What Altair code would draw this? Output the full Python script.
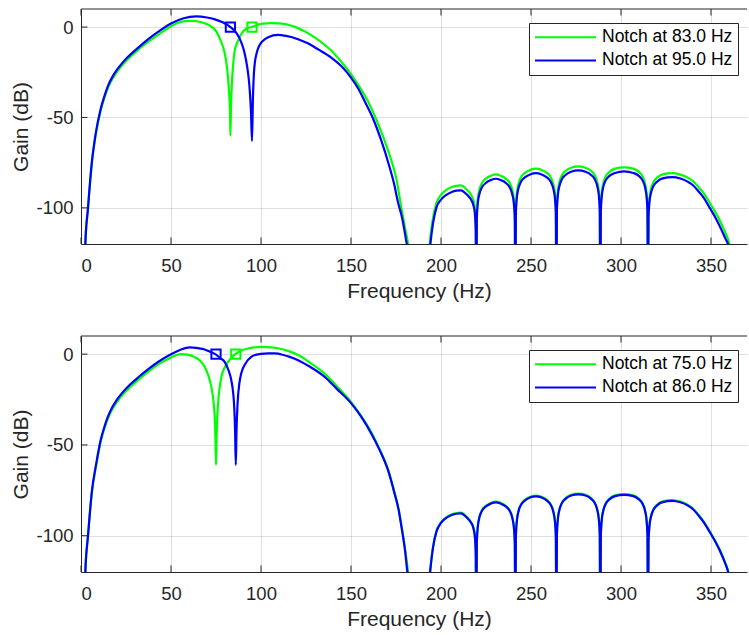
import altair as alt
import pandas as pd

# ---------------- data ----------------
GREEN = "#00ff00"
BLUE = "#0000ff"
TXT = "#262626"
FONT = "Liberation Sans"

x_ticks = [0, 50, 100, 150, 200, 250, 300, 350]
y_ticks = [-100, -50, 0]

top_labels = ["Notch at 83.0 Hz", "Notch at 95.0 Hz"]
bot_labels = ["Notch at 75.0 Hz", "Notch at 86.0 Hz"]

# --- top panel, passband ---
top_green_f = [2.0, 2.4, 3.9, 6, 8.1, 11, 13, 15, 17.5, 20, 23, 26, 32, 37.2, 43, 50, 54, 57.6, 62, 65, 69,
               72.4, 74.5, 77.6, 79.5, 81.1, 82.2, 82.8, 83.0, 83.3, 83.8, 84.4, 85.4, 87.2,
               89, 91.9, 94.8, 98, 101, 105.7, 110, 115, 120, 124.5, 129.8, 135, 139, 144,
               150, 155, 159.4, 164, 168.7, 172, 175, 178, 180, 181.7, 182.5]
top_green_g = [-135, -120, -100, -75.5, -60, -45.8, -39.2, -33.6, -28.6, -24.8, -21, -17.8, -12.3, -8.2, -4.2, 0.5, 2.4, 3.3, 3.4, 3.1, 2.0,
               0.3, -1.5, -7.6, -13, -22.4, -35, -48, -60, -45, -32, -22.4, -13, -7.6,
               -4, -0.8, 0, 1.2, 1.9, 2.2, 2.0, 1.3, -0.3, -2.5, -5.7, -9.5, -13, -18.5,
               -26, -33.5, -41, -51, -63, -72.5, -83, -100, -111, -120, -127]

top_blue_f = [2.0, 2.4, 3.9, 6, 8.1, 11, 13, 15, 17.5, 20, 23, 26, 32, 37.2, 43, 50, 57, 64, 70, 74, 79, 83,
              86.5, 88.7, 90.6, 92.4, 93.6, 94.4, 95.0, 95.5, 96.3, 97.9, 99.5, 101.1, 104,
              109.4, 114, 120.6, 126, 132, 139, 145, 150, 154, 157.6, 162, 166.9, 171, 174,
              176, 178.5, 181, 182]
top_blue_g = [-135, -120, -100, -75, -59.4, -45, -38.2, -32.5, -27.4, -23.6, -19.8, -16.6, -11.2, -6.8, -2.5, 2.0, 4.9, 5.9, 5.3, 4.4, 2.5, 0,
              -3.5, -7.6, -13.2, -22.4, -33, -46, -63, -40, -22.4, -13.2, -9.5, -7.6, -5.6,
              -4.3, -4.9, -6.7, -9, -12.5, -16.9, -22, -28, -34, -41, -50, -63, -76, -87,
              -96.5, -106, -120, -125]

# --- bottom panel, passband ---
bot_green_f = [2.0, 2.4, 3.9, 6, 8.5, 11, 13, 15, 17.5, 20, 23, 27, 32, 37.2, 43, 50, 53, 55.7, 59, 63, 66,
               68.7, 70.8, 72.4, 73.6, 74.3, 74.7, 75.0, 75.3, 75.8, 76.6, 78, 79.5, 81.7,
               85.7, 89, 92.8, 96, 100, 103, 105.7, 110, 115, 120.6, 127, 135.4, 142, 150,
               156, 161.3, 166, 170.6, 174, 176.5, 178, 180, 181.7, 182.5]
bot_green_g = [-135, -120, -100, -76.5, -61, -48, -41, -35.3, -30.2, -26.3, -22.5, -18.4, -14.0, -9.8, -5.6, -1.8, -0.5, 0, -0.3, -1.5, -3.5,
               -7, -12, -18, -26, -35, -47, -61, -47, -33, -22, -12.5, -8, -4.2,
               0, 2, 3.1, 3.7, 4.0, 3.9, 3.7, 3.1, 1.8, -0.5, -4.5, -10.7, -17.5, -26.3,
               -34.5, -43, -52.5, -63.5, -75.5, -85.5, -94, -107, -120, -127]

bot_blue_f = [2.0, 2.4, 3.9, 6, 8.5, 11, 13, 15, 17.5, 20, 23, 27, 32, 37.2, 43, 50, 55, 60.4, 65, 68.7, 72,
              74.6, 77.5, 79.8, 82, 83.5, 85, 85.6, 86.0, 86.4, 87, 88, 89, 91.5, 94.6, 97,
              100, 104, 107.6, 112, 116, 120.6, 127, 135.4, 142, 150, 156, 161.3, 166, 170.6,
              174, 176.5, 178, 180, 181.3, 182.3]
bot_blue_g = [-135, -120, -100, -76, -60, -47, -40, -34.3, -29, -25, -21.2, -17, -12.6, -8.4, -4.2, 0, 2.3, 3.7, 3.3, 2.6, 1.2,
              0, -2.3, -4.2, -9, -14.4, -27, -42, -61, -42, -27, -16, -10.7, -5, -1.5, -0.4,
              0.2, 0.45, 0.4, -0.3, -1.5, -3.3, -6.8, -12.5, -19, -27, -35, -43.8, -53, -64,
              -76, -86, -95, -108, -120, -128]

# --- stopband (same frequency grid in both panels) ---
stop_f = [183, 188, 193, 194.1, 195.5, 197.4, 200, 203, 206, 208.5, 211, 214.5, 216.6, 218.0, 218.8, 219.3, 219.6,
          219.9, 220.4, 221.2, 222.6, 224.7, 227.8, 230.5, 233.1, 236.2, 238.3, 239.7, 240.5, 241.0, 241.3,
          241.6, 242.1, 242.9, 244.3, 246.4, 249.5, 252.7, 255.9, 259.0, 261.1, 262.5, 263.3, 263.8, 264.1,
          264.4, 264.9, 265.7, 267.1, 269.2, 272.3, 276.3, 280.3, 283.4, 285.5, 286.9, 287.7, 288.2, 288.5,
          288.8, 289.3, 290.1, 291.5, 293.6, 296.7, 301.7, 306.8, 309.9, 312.0, 313.4, 314.2, 314.7, 315.0,
          315.3, 315.8, 316.6, 318.0, 320.1, 323.2, 328.5, 333, 337, 340, 343, 346, 349.3, 352.5, 355.5, 358,
          359.4, 361, 364, 370]

top_blue_stop = [-150, -175, -132, -120, -109, -100, -95.5, -92.8, -91.2, -90.5, -90.3, -92.8, -95.3, -98.5, -103, -112.3, -160,
                 -105.9, -97.9, -92.9, -88.9, -86.4, -84.6, -83.9, -84.6, -86.4, -88.9, -92.9, -97.9, -105.9, -160,
                 -102.8, -94.8, -89.8, -85.8, -83.3, -81.5, -80.8, -81.5, -83.3, -85.8, -89.8, -94.8, -102.8, -160,
                 -101.3, -93.3, -88.3, -84.3, -81.8, -80.0, -79.3, -80.0, -81.8, -84.3, -88.3, -93.3, -101.3, -160,
                 -101.8, -93.8, -88.8, -84.8, -82.3, -80.7, -79.8, -80.7, -82.3, -84.8, -88.8, -93.8, -101.8, -160,
                 -105, -97, -92, -88, -85.5, -83.7, -83.0, -83.8, -85.5, -87.5, -90.8, -94.5, -100, -105.5, -111.5, -117,
                 -120, -128, -145, -170]

top_green_stop = [-148, -172, -128, -116, -106, -97.5, -92.8, -90.1, -88.5, -87.8, -87.6, -90.1, -92.6, -95.8, -100.3, -109.6, -160,
                  -103.5, -95.5, -90.5, -86.5, -84.0, -82.2, -81.5, -82.2, -84.0, -86.5, -90.5, -95.5, -103.5, -160,
                  -100.3, -92.3, -87.3, -83.3, -80.8, -79.0, -78.3, -79.0, -80.8, -83.3, -87.3, -92.3, -100.3, -160,
                  -99.1, -91.1, -86.1, -82.1, -79.6, -77.8, -77.1, -77.8, -79.6, -82.1, -86.1, -91.1, -99.1, -160,
                  -99.6, -91.6, -86.6, -82.6, -80.1, -78.3, -77.6, -78.3, -80.1, -82.6, -86.6, -91.6, -99.6, -160,
                  -102.8, -94.8, -89.8, -85.8, -83.3, -81.5, -80.8, -81.6, -83.2, -85.2, -88.4, -92.0, -97.2, -102.5, -108.2, -113.8,
                  -117.2, -123.5, -140, -165]

bot_blue_stop = [-149, -173, -130, -118.5, -107, -98, -93, -90.2, -88.6, -87.9, -87.7, -90.2, -92.7, -95.9, -100.4, -109.7, -160,
                 -103.6, -95.6, -90.6, -86.6, -84.1, -82.3, -81.6, -82.3, -84.1, -86.6, -90.6, -95.6, -103.6, -160,
                 -100.3, -92.3, -87.3, -83.3, -80.8, -79.0, -78.3, -79.0, -80.8, -83.3, -87.3, -92.3, -100.3, -160,
                 -99.2, -91.2, -86.2, -82.2, -79.7, -77.9, -77.2, -77.9, -79.7, -82.2, -86.2, -91.2, -99.2, -160,
                 -99.5, -91.5, -86.5, -82.5, -80.0, -78.2, -77.5, -78.2, -80.0, -82.5, -86.5, -91.5, -99.5, -160,
                 -102.8, -94.8, -89.8, -85.8, -83.3, -81.5, -80.8, -81.6, -83.3, -85.4, -88.8, -92.6, -98, -103.5, -109.5, -115.5,
                 -119.5, -127, -144, -168]

bot_green_stop = [-148.5, -172.5, -129.5, -118, -106.6, -97.6, -92.6, -89.8, -88.2, -87.5, -87.3, -89.8, -92.3, -95.5, -100.0, -109.3, -160,
                  -103.2, -95.2, -90.2, -86.2, -83.7, -81.9, -81.2, -81.9, -83.7, -86.2, -90.2, -95.2, -103.2, -160,
                  -99.9, -91.9, -86.9, -82.9, -80.4, -78.6, -77.9, -78.6, -80.4, -82.9, -86.9, -91.9, -99.9, -160,
                  -98.8, -90.8, -85.8, -81.8, -79.3, -77.5, -76.8, -77.5, -79.3, -81.8, -85.8, -90.8, -98.8, -160,
                  -99.1, -91.1, -86.1, -82.1, -79.6, -77.8, -77.1, -77.8, -79.6, -82.1, -86.1, -91.1, -99.1, -160,
                  -102.4, -94.4, -89.4, -85.4, -82.9, -81.1, -80.4, -81.2, -82.9, -85.0, -88.4, -92.2, -97.6, -103.1, -109.1, -115.1,
                  -119.1, -126.5, -143.5, -167.5]

# squares: each filter's response marked at the other filter's notch
top_sq_f = [83.0, 95.0]
top_sq_g = [0, 0]
bot_sq_f = [75.0, 86.0]
bot_sq_g = [0, 0]

# ---------------- layout constants ----------------
W = 666
H_TOP = 235
H_BOT = 236
TICK = 6.5


def panel(labels, g_f, g_g, b_f, b_g, g_stop, b_stop, sq_f, sq_g, H):
    green_df = pd.DataFrame({"freq": g_f + stop_f, "gain": g_g + g_stop, "series": labels[0]})
    blue_df = pd.DataFrame({"freq": b_f + stop_f, "gain": b_g + b_stop, "series": labels[1]})
    # blue square sits at the green notch, green square at the blue notch
    sq_df = pd.DataFrame({"freq": sq_f, "gain": sq_g, "series": [labels[1], labels[0]]})

    cscale = alt.Scale(domain=labels, range=[GREEN, BLUE])
    x_enc = alt.X("freq:Q", scale=alt.Scale(domain=[0, 370], nice=False, zero=False),
                  axis=alt.Axis(values=x_ticks, title="Frequency (Hz)", titleX=W / 2 + 5))
    y_enc = alt.Y("gain:Q", scale=alt.Scale(domain=[-120, 10], nice=False, zero=False),
                  axis=alt.Axis(values=y_ticks, title="Gain (dB)",
                                labelExpr="toString(datum.value)"))
    legend = alt.Legend(
        title=None, orient="none", legendX=448, legendY=14,
        symbolType="stroke", symbolSize=3721, symbolStrokeWidth=2,
        clipHeight=18.4, rowPadding=4.2,
        labelFontSize=17.5, labelFont=FONT, labelColor="#000000",
        labelOffset=5, padding=5,
        fillColor="#ffffff", strokeColor=TXT, cornerRadius=0,
    )

    base_line = dict(clip=True, strokeWidth=2.2, interpolate="monotone")
    g_line = alt.Chart(green_df).mark_line(**base_line).encode(
        x=x_enc, y=y_enc, color=alt.Color("series:N", scale=cscale, legend=legend))
    b_line = alt.Chart(blue_df).mark_line(**base_line).encode(
        x=x_enc, y=y_enc, color=alt.Color("series:N", scale=cscale, legend=legend))
    squares = alt.Chart(sq_df).mark_point(shape="square", size=85, strokeWidth=2,
                                          filled=False, opacity=1).encode(
        x=x_enc, y=y_enc, color=alt.Color("series:N", scale=cscale, legend=None))

    xt = pd.DataFrame({"freq": x_ticks})
    yt = pd.DataFrame({"gain": y_ticks})
    one = pd.DataFrame({"k": [0]})
    tick_style = dict(color=TXT, strokeWidth=1)
    xt_bot = alt.Chart(xt).mark_rule(**tick_style).encode(
        x=x_enc, y=alt.value(H), y2=alt.value(H - TICK))
    xt_top = alt.Chart(xt).mark_rule(**tick_style).encode(
        x=x_enc, y=alt.value(0), y2=alt.value(TICK))
    yt_left = alt.Chart(yt).mark_rule(**tick_style).encode(
        y=y_enc, x=alt.value(0), x2=alt.value(TICK))
    top_frame = alt.Chart(one).mark_rule(**tick_style).encode(
        x=alt.value(0), x2=alt.value(W), y=alt.value(0))

    return alt.layer(g_line, b_line, squares, xt_bot, xt_top, yt_left, top_frame).properties(
        width=W, height=H)


top = panel(top_labels, top_green_f, top_green_g, top_blue_f, top_blue_g,
            top_green_stop, top_blue_stop, top_sq_f, top_sq_g, H_TOP)
bot = panel(bot_labels, bot_green_f, bot_green_g, bot_blue_f, bot_blue_g,
            bot_green_stop, bot_blue_stop, bot_sq_f, bot_sq_g, H_BOT)

chart = alt.vconcat(top, bot, spacing=33).resolve_scale(color="independent").resolve_legend(
    color="independent"
).properties(
    padding={"left": 10, "top": 8, "right": 0, "bottom": 0},
    background="#ffffff",
).configure_view(stroke=None).configure_axis(
    labelFont=FONT, titleFont=FONT, labelColor=TXT, titleColor=TXT,
    labelFontSize=18.5, titleFontSize=21, titleFontWeight="normal",
    domainColor=TXT, domainWidth=1, ticks=False,
    gridColor=TXT, gridOpacity=0.15, gridWidth=1,
).configure_axisX(labelPadding=12, titlePadding=6).configure_axisY(
    labelPadding=8, titlePadding=4)

chart.save("out.html", embed_options={"renderer": "svg", "actions": False})
